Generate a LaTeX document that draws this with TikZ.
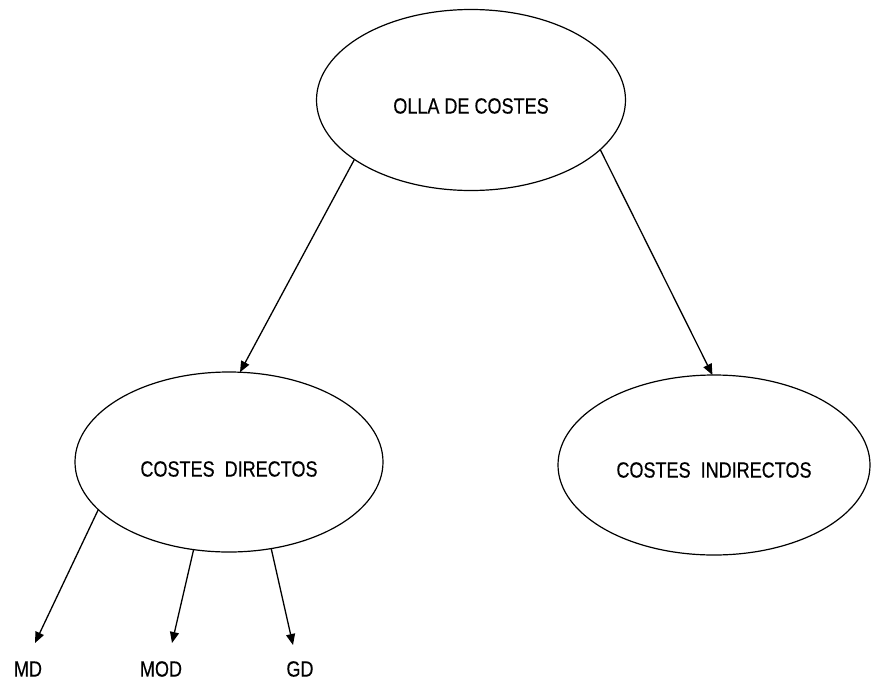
\documentclass[tikz,border=0pt]{standalone}
\usepackage{fontspec}
\setmainfont{Liberation Sans}[FakeStretch=0.82, FakeBold=0.4]
\usetikzlibrary{shapes.geometric,arrows.meta}
\begin{document}
\begin{tikzpicture}[x=1pt,y=-1pt,
  costbox/.style={draw, ellipse, line width=1.2pt, inner sep=0pt, outer sep=0pt},
  lbl/.style={font=\fontsize{22}{26}\selectfont, inner sep=0pt},
  link/.style={line width=1.3pt, -{Triangle[length=11pt,width=9pt]}}
]
\useasboundingbox (0,0) rectangle (873,683);

% cost pool and its two branches
\node[costbox, minimum width=309pt, minimum height=181pt,
      label={[lbl, yshift=-6pt]center:OLLA DE COSTES}] (olla) at (471,100) {};
\node[costbox, minimum width=308pt, minimum height=180pt,
      label={[lbl, yshift=-7pt]center:COSTES\ \ DIRECTOS}] (cd) at (229,462) {};
\node[costbox, minimum width=312pt, minimum height=180pt,
      label={[lbl, yshift=-5pt]center:COSTES\ \ INDIRECTOS}] (ci) at (714,465) {};

% direct cost components
\node[lbl] (md)  at (28,669)  {MD};
\node[lbl] (mod) at (161,669) {MOD};
\node[lbl] (gd)  at (300,669) {GD};

\coordinate (mdtip)  at (35,643);
\coordinate (modtip) at (172,643);
\coordinate (gdtip)  at (293,645);

\draw[link] (olla.207) -- (cd.83);
\draw[link] (olla.339) -- (ci.91);

\draw[link] (cd.200) -- (mdtip);
\draw[link] (cd.248) -- (modtip);
\draw[link] (cd.296) -- (gdtip);
\end{tikzpicture}
\end{document}
